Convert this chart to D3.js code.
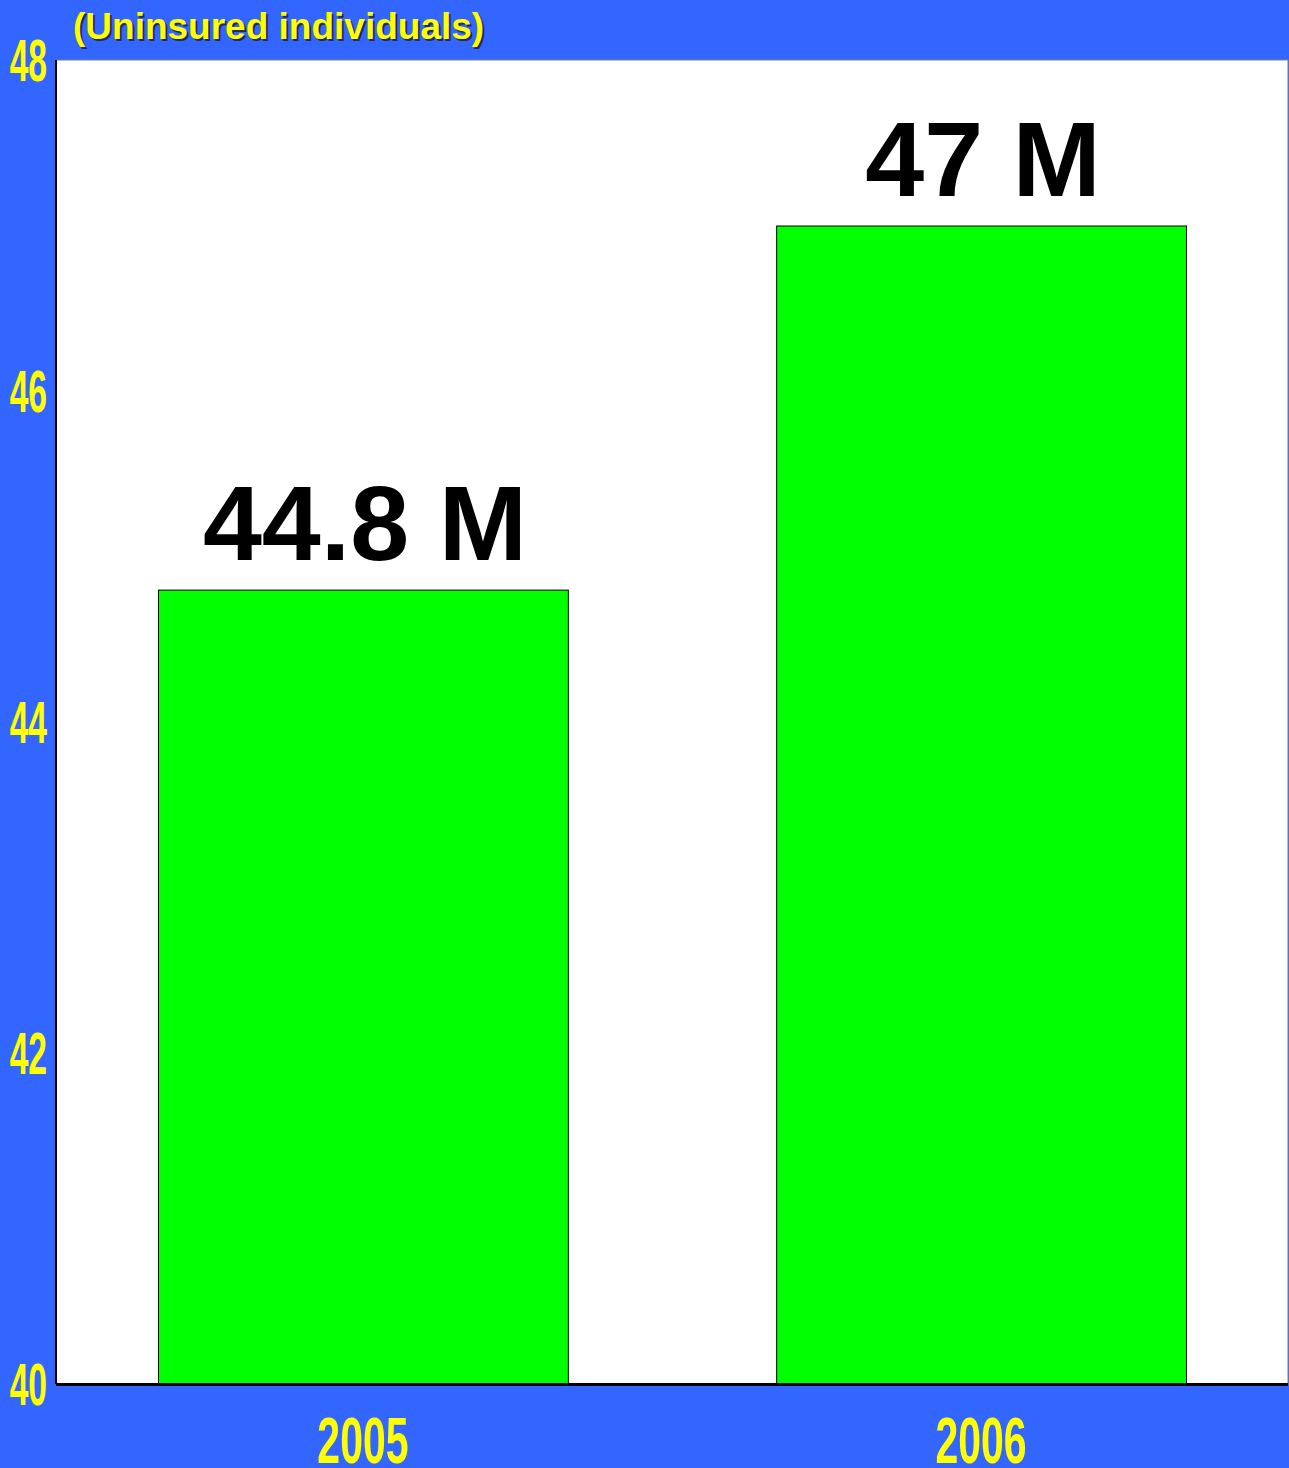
<!DOCTYPE html>
<html>
<head>
<meta charset="utf-8">
<script src="https://cdn.jsdelivr.net/npm/d3@7"></script>
<style>
  body { margin: 0; background: #3366ff; }
  svg { display: block; }
</style>
</head>
<body>
<svg id="chart"></svg>
<script>
var width = 1289, height = 1468

var years = ["2005", "2006"];
var uninsured = [44.8, 47];
var valueLabels = ["44.8 M", "47 M"];
var yTicks = [40, 42, 44, 46, 48];
var title = "(Uninsured individuals)";

var margin = {top: 60, right: 1, bottom: 84, left: 56};

var svg = d3.select("#chart")
    .attr("width", width)
    .attr("height", height)

svg.append("rect")
    .attr("width", width)
    .attr("height", height)
    .attr("fill", "#3366ff")

var x = d3.scaleBand()
    .domain(years)
    .range([margin.left, width - margin.right])
    .paddingInner(0.337)
    .paddingOuter(0.165)

var y = d3.scaleLinear()
    .domain([40, 48])
    .range([height - margin.bottom, margin.top])

// plot area
svg.append("rect")
    .attr("x", margin.left)
    .attr("y", margin.top)
    .attr("width", width - margin.right - margin.left)
    .attr("height", height - margin.bottom - margin.top)
    .attr("fill", "#ffffff")
    .attr("stroke", "#808080")
    .attr("stroke-width", 1)

// bars
svg.selectAll(".bar")
    .data(uninsured)
    .join("rect")
    .attr("class", "bar")
    .attr("x", function(d, i) { return x(years[i]) + 0.5 })
    .attr("y", function(d) { return y(d) + 0.5 })
    .attr("width", x.bandwidth())
    .attr("height", function(d) { return y(40) - y(d) })
    .attr("fill", "#00ff00")
    .attr("stroke", "#000000")
    .attr("stroke-width", 1)

// value labels
svg.selectAll(".val")
    .data(uninsured)
    .join("text")
    .attr("class", "val")
    .attr("x", function(d, i) { return x(years[i]) + x.bandwidth() / 2 + 2 })
    .attr("y", function(d) { return y(d) - 30 })
    .attr("text-anchor", "middle")
    .attr("font-family", "'Liberation Sans', Arial, sans-serif")
    .attr("font-weight", "bold")
    .attr("font-size", 106)
    .attr("fill", "#000000")
    .text(function(d, i) { return valueLabels[i] })

// axes lines
svg.append("line")
    .attr("x1", margin.left).attr("x2", margin.left)
    .attr("y1", margin.top).attr("y2", y(40))
    .attr("stroke", "#000").attr("stroke-width", 2)
svg.append("line")
    .attr("x1", margin.left).attr("x2", width - margin.right)
    .attr("y1", y(40) + 0.5).attr("y2", y(40) + 0.5)
    .attr("stroke", "#000").attr("stroke-width", 3)

// y tick labels (condensed)
var yAxis = svg.append("g")
yAxis.selectAll("text")
    .data(yTicks)
    .join("text")
    .attr("transform", function(d) { return "translate(47," + (y(d) + 21) + ") scale(0.56,1)" })
    .attr("text-anchor", "end")
    .attr("font-family", "'Liberation Sans Narrow', 'Arial Narrow', sans-serif")
    .attr("font-weight", "bold")
    .attr("font-size", 60)
    .attr("fill", "#ffff00")
    .text(function(d) { return d })

// x labels
svg.append("g").selectAll("text")
    .data(years)
    .join("text")
    .attr("transform", function(d) { return "translate(" + (x(d) + x.bandwidth() / 2) + "," + (height - 5) + ") scale(0.64,1)" })
    .attr("text-anchor", "middle")
    .attr("font-family", "'Liberation Sans Narrow', 'Arial Narrow', sans-serif")
    .attr("font-weight", "bold")
    .attr("font-size", 64)
    .attr("fill", "#ffff00")
    .text(function(d) { return d })

// title with shadow
svg.append("text")
    .attr("x", 75).attr("y", 41)
    .attr("font-family", "'Liberation Sans', Arial, sans-serif")
    .attr("font-weight", "bold")
    .attr("font-size", 37)
    .attr("fill", "#1a1a40")
    .attr("opacity", 0.8)
    .text(title)
svg.append("text")
    .attr("x", 73).attr("y", 39)
    .attr("font-family", "'Liberation Sans', Arial, sans-serif")
    .attr("font-weight", "bold")
    .attr("font-size", 37)
    .attr("fill", "#ffff00")
    .text(title)
</script>
</body>
</html>
